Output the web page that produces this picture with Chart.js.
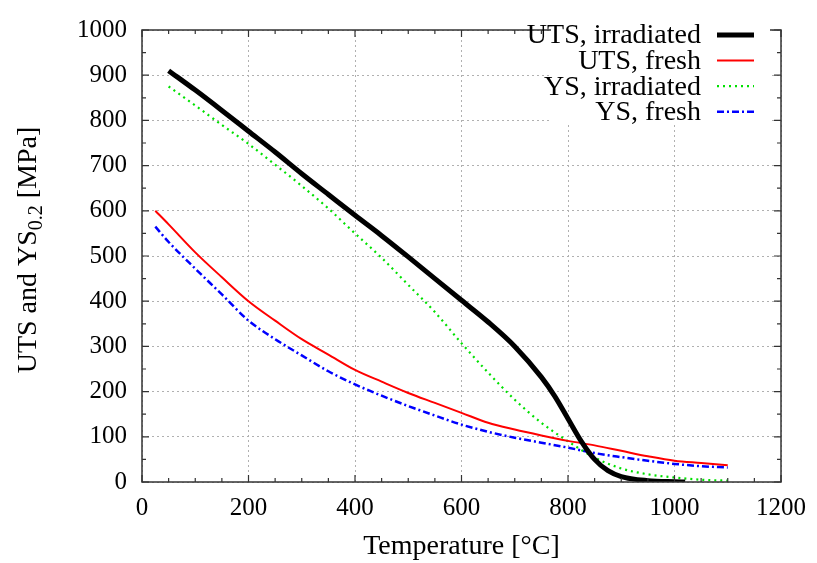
<!DOCTYPE html>
<html>
<head>
<meta charset="utf-8">
<script src="https://cdn.jsdelivr.net/npm/chart.js@4"></script>
<style>
  html, body { margin: 0; padding: 0; background: #fff; }
  #wrap { position: relative; width: 817px; height: 563px; }
</style>
</head>
<body>
<div id="wrap"><canvas id="myChart"></canvas></div>
<script>
// temperatures [degC] and strengths [MPa]
const utsIrrT = [50, 100, 150, 200, 250, 300, 350, 400, 450, 500, 550, 600, 650, 700, 750, 775, 800, 825, 850, 875, 900, 950, 1000, 1020];
const utsIrr  = [910, 867, 822, 776, 730, 682, 636, 590, 545, 498, 450, 402, 354, 300, 232, 190, 140, 90, 50, 25, 12, 3, 0.5, 0];

const utsFreshT = [25, 50, 100, 150, 200, 250, 300, 350, 400, 450, 500, 550, 600, 650, 700, 750, 800, 850, 900, 950, 1000, 1050, 1100];
const utsFresh  = [600, 570, 508, 453, 400, 357, 316, 282, 248, 222, 197, 175, 153, 131, 116, 103, 91, 81, 69, 57, 47, 42, 37];

const ysIrrT = [50, 100, 150, 200, 250, 300, 350, 400, 450, 500, 550, 600, 650, 700, 750, 800, 850, 900, 950, 1000, 1050, 1100];
const ysIrr  = [875, 833, 790, 748, 702, 655, 605, 550, 496, 436, 376, 307, 242, 182, 131, 90, 54, 30, 17, 10, 5, 3];

const ysFreshT = [25, 50, 100, 150, 200, 250, 300, 350, 400, 450, 500, 550, 600, 650, 700, 750, 800, 850, 900, 950, 1000, 1050, 1100];
const ysFresh  = [565, 531, 472, 415, 357, 316, 280, 245, 216, 191, 168, 147, 127, 111, 98, 87, 76, 64, 55, 47, 40, 35, 32];

const xTicks = [0, 200, 400, 600, 800, 1000, 1200];
const yTicks = [0, 100, 200, 300, 400, 500, 600, 700, 800, 900, 1000];

const FONT = "'Liberation Serif', 'Times New Roman', serif";

const pts = (xs, ys) => xs.map((x, i) => ({ x: x, y: ys[i] }));

// frame with inward ticks on all four sides
const frame = {
    id: 'frame',
    afterDatasetsDraw(chart) {
        const ctx = chart.ctx, a = chart.chartArea;
        const sx = chart.scales.x, sy = chart.scales.y;
        ctx.save();
        ctx.strokeStyle = '#333';
        ctx.lineWidth = 1.5;
        ctx.strokeRect(a.left, a.top, a.right - a.left, a.bottom - a.top);
        ctx.lineWidth = 1.2;
        ctx.beginPath();
        for (let v = 0; v <= 1200; v += 50) {
            const px = sx.getPixelForValue(v);
            const len = v % 200 === 0 ? 7 : 4;
            ctx.moveTo(px, a.bottom); ctx.lineTo(px, a.bottom - len);
            ctx.moveTo(px, a.top); ctx.lineTo(px, a.top + len);
        }
        for (let v = 0; v <= 1000; v += 50) {
            const py = sy.getPixelForValue(v);
            const len = v % 100 === 0 ? 7 : 4;
            ctx.moveTo(a.left, py); ctx.lineTo(a.left + len, py);
            ctx.moveTo(a.right, py); ctx.lineTo(a.right - len, py);
        }
        ctx.stroke();
        ctx.restore();
    }
};

// gnuplot style key: right aligned text, sample to the right
const key = {
    id: 'key',
    afterDraw(chart) {
        const ctx = chart.ctx;
        ctx.save();
        ctx.fillStyle = '#fff';
        ctx.fillRect(551, 18, 219, 106);
        ctx.font = '28px ' + FONT;
        ctx.textAlign = 'right';
        ctx.textBaseline = 'middle';
        chart.data.datasets.forEach((ds, i) => {
            const y = 35 + i * 25.6;
            ctx.fillStyle = '#000';
            ctx.fillText(ds.label, 701, y + 1);
            ctx.strokeStyle = ds.borderColor;
            ctx.lineWidth = ds.borderWidth;
            ctx.setLineDash(ds.borderDash || []);
            ctx.beginPath();
            ctx.moveTo(717, y); ctx.lineTo(754, y);
            ctx.stroke();
        });
        ctx.restore();
    }
};

// y axis title with subscript
const yTitle = {
    id: 'yTitle',
    afterDraw(chart) {
        const ctx = chart.ctx;
        ctx.save();
        ctx.translate(36, 250);
        ctx.rotate(-Math.PI / 2);
        ctx.fillStyle = '#000';
        ctx.textBaseline = 'alphabetic';
        const big = '28px ' + FONT, small = '20px ' + FONT;
        const parts = [['UTS and YS', big, 0], ['0.2', small, 6], [' [MPa]', big, 0]];
        let w = 0;
        parts.forEach(p => { ctx.font = p[1]; w += ctx.measureText(p[0]).width; });
        let x = -w / 2;
        parts.forEach(p => {
            ctx.font = p[1];
            ctx.fillText(p[0], x, p[2]);
            x += ctx.measureText(p[0]).width;
        });
        ctx.restore();
    }
};

const ctx1 = document.getElementById('myChart');
new Chart(ctx1, {
    type: 'line',
    data: {
        datasets: [{
            label: 'UTS, irradiated',
            data: pts(utsIrrT, utsIrr),
            borderColor: '#000000',
            borderWidth: 5
        }, {
            label: 'UTS, fresh',
            data: pts(utsFreshT, utsFresh),
            borderColor: '#ff0000',
            borderWidth: 2
        }, {
            label: 'YS, irradiated',
            data: pts(ysIrrT, ysIrr),
            borderColor: '#00e000',
            borderWidth: 2.2,
            borderDash: [2, 4]
        }, {
            label: 'YS, fresh',
            data: pts(ysFreshT, ysFresh),
            borderColor: '#0000ff',
            borderWidth: 2.5,
            borderDash: [7, 3, 2, 3]
        }]
    },
    options: {
        responsive: true,
        maintainAspectRatio: false,
        animation: false,
        elements: {
            point: { radius: 0 },
            line: { cubicInterpolationMode: 'monotone', fill: false }
        },
        layout: { padding: { top: 17, right: 32, left: 0, bottom: 0 } },
        plugins: {
            legend: { display: false },
            tooltip: { enabled: false }
        },
        scales: {
            x: {
                type: 'linear',
                min: 0, max: 1200,
                afterBuildTicks: s => { s.ticks = xTicks.map(v => ({ value: v })); },
                afterFit: s => { s.height = 81; },
                ticks: { color: '#000', font: { family: FONT, size: 25 }, padding: 11, callback: v => String(v) },
                grid: { color: '#b0b0b0', lineWidth: 1, drawTicks: false },
                border: { display: false, dash: [2, 3] },
                title: {
                    display: true,
                    text: 'Temperature [°C]',
                    color: '#000',
                    font: { family: FONT, size: 28 },
                    padding: { top: 0, bottom: 0 }
                }
            },
            y: {
                min: 0, max: 1000,
                afterBuildTicks: s => { s.ticks = yTicks.map(v => ({ value: v })); },
                afterFit: s => { s.width = 142; },
                ticks: { color: '#000', font: { family: FONT, size: 25 }, padding: 15, callback: v => String(v) },
                grid: { color: '#b0b0b0', lineWidth: 1, drawTicks: false },
                border: { display: false, dash: [2, 3] }
            }
        }
    },
    plugins: [frame, key, yTitle]
});
</script>
</body>
</html>
